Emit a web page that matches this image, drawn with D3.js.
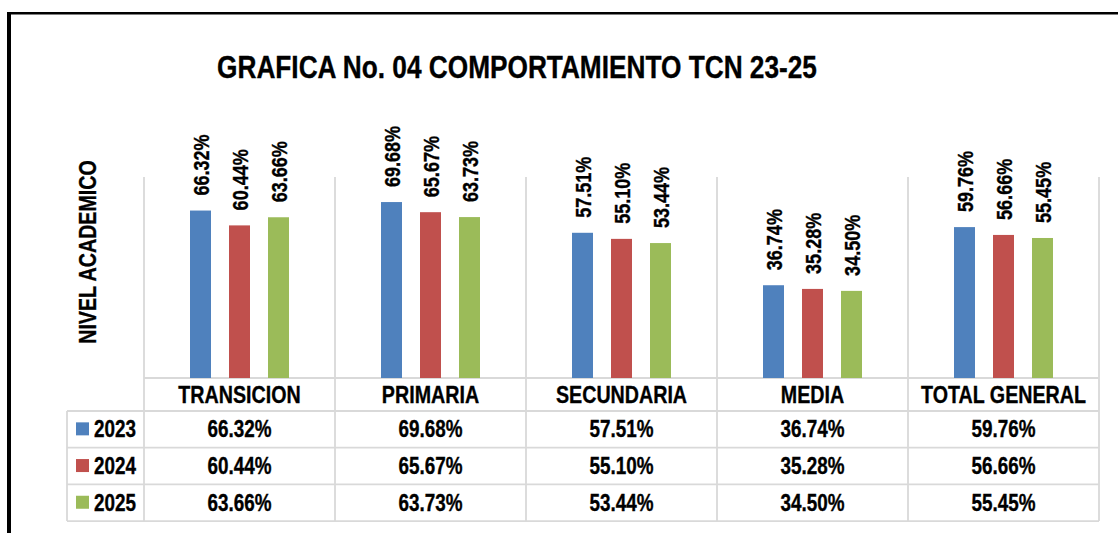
<!DOCTYPE html>
<html>
<head>
<meta charset="utf-8">
<script src="https://cdn.jsdelivr.net/npm/d3@7"></script>
<style>
  body { margin: 0; background: #fff; }
  text { font-family: "Liberation Sans", Arial, sans-serif; font-weight: bold; fill: #000; stroke: #000; stroke-width: 0.35px; }
</style>
</head>
<body>
<svg id="chart"></svg>
<script>
// data
var categories = ["TRANSICION", "PRIMARIA", "SECUNDARIA", "MEDIA", "TOTAL GENERAL"];
var years = ["2023", "2024", "2025"];
var values2023 = [66.32, 69.68, 57.51, 36.74, 59.76];
var values2024 = [60.44, 65.67, 55.10, 35.28, 56.66];
var values2025 = [63.66, 63.73, 53.44, 34.50, 55.45];
var colors = ["#4F81BD", "#C0504D", "#9BBB59"];
var title = "GRAFICA No. 04 COMPORTAMIENTO TCN 23-25";
var axisTitle = "NIVEL ACADEMICO";

var seriesValues = [values2023, values2024, values2025];

var width = 1118, height = 533;
var narrow = 0.82;   // squeeze to look like Arial Narrow
var gridColor = "#d9d9d9";

var svg = d3.select("#chart").attr("width", width).attr("height", height);

var x = d3.scaleBand().domain(categories).range([144, 1099]);
var xSub = d3.scalePoint().domain(years).range([-39, 39]);
var barW = 21;
var y = d3.scaleLinear().domain([0, 80]).range([378, 176]);

var rowTop = 411, rowH = 36.7;
var legendLeft = 67;

function fmt(v) { return v.toFixed(2) + "%"; }

/* frame */
svg.append("rect").attr("x", 7).attr("y", 12).attr("width", width - 7).attr("height", 2.5).attr("fill", "#000");
svg.append("rect").attr("x", 7).attr("y", 12).attr("width", 4).attr("height", height - 12).attr("fill", "#000");

/* title */
svg.append("text")
  .attr("transform", "translate(517,78) scale(" + narrow + ",1)")
  .attr("text-anchor", "middle")
  .style("font-size", "32px")
  .text(title);

/* axis title */
svg.append("text")
  .attr("transform", "translate(96,252) rotate(-90) scale(" + narrow + ",1)")
  .attr("text-anchor", "middle")
  .style("font-size", "24px")
  .text(axisTitle);

/* grid / table lines */
var grid = svg.append("g").attr("stroke", gridColor).attr("stroke-width", 1.8).attr("fill", "none");
var seps = categories.map(function(c) { return x(c); }).concat([x.range()[1]]);
grid.selectAll(".vsep").data(seps).enter().append("line")
  .attr("x1", function(d) { return d; }).attr("x2", function(d) { return d; })
  .attr("y1", y(80) + 1).attr("y2", rowTop + rowH * years.length);
grid.append("line").attr("x1", x.range()[0]).attr("x2", x.range()[1]).attr("y1", y(0)).attr("y2", y(0));
grid.selectAll(".hrow").data(d3.range(years.length + 1)).enter().append("line")
  .attr("x1", legendLeft).attr("x2", x.range()[1])
  .attr("y1", function(i) { return rowTop + i * rowH; })
  .attr("y2", function(i) { return rowTop + i * rowH; });
grid.append("line").attr("x1", legendLeft).attr("x2", legendLeft)
  .attr("y1", rowTop).attr("y2", rowTop + rowH * years.length);

/* bars */
var groups = svg.selectAll(".cat").data(categories).enter().append("g")
  .attr("class", "cat")
  .attr("transform", function(c) { return "translate(" + (x(c) + x.bandwidth() / 2) + ",0)"; });

years.forEach(function(yr, s) {
  groups.append("rect")
    .attr("x", xSub(yr) - barW / 2)
    .attr("width", barW)
    .attr("y", function(c, i) { return y(seriesValues[s][i]); })
    .attr("height", function(c, i) { return y(0) - y(seriesValues[s][i]); })
    .attr("fill", colors[s]);

  groups.append("text")
    .attr("transform", function(c, i) {
      return "translate(" + (xSub(yr) + 8) + "," + (y(seriesValues[s][i]) - 15) + ") rotate(-90) scale(" + narrow + ",1)";
    })
    .style("font-size", "22px")
    .text(function(c, i) { return fmt(seriesValues[s][i]); });
});

/* header row */
groups.append("text")
  .attr("transform", "translate(0,403) scale(" + narrow + ",1)")
  .attr("text-anchor", "middle")
  .style("font-size", "24px")
  .text(function(c) { return c; });

/* table values */
years.forEach(function(yr, s) {
  var base = rowTop + s * rowH + rowH / 2 + 8;
  groups.append("text")
    .attr("transform", "translate(0," + base + ") scale(" + narrow + ",1)")
    .attr("text-anchor", "middle")
    .style("font-size", "23px")
    .text(function(c, i) { return fmt(seriesValues[s][i]); });

  svg.append("rect")
    .attr("x", 76).attr("y", base - 15).attr("width", 13).attr("height", 13)
    .attr("fill", colors[s]);
  svg.append("text")
    .attr("transform", "translate(94," + base + ") scale(" + narrow + ",1)")
    .style("font-size", "23px")
    .text(yr);
});
</script>
</body>
</html>
